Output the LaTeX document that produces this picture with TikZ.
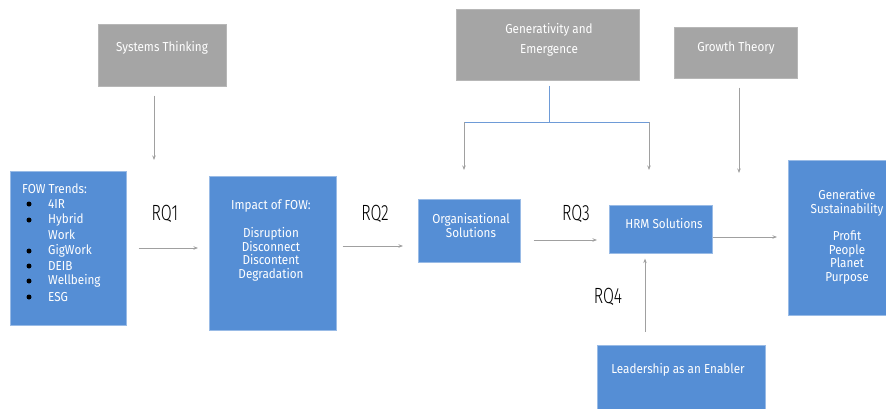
\documentclass[tikz,border=0pt]{standalone}
\usepackage{fontspec}
\setmainfont{Fira Sans}[FakeStretch=0.9]
\newfontfamily\rqfont{Fira Sans Light}[FakeStretch=0.72]
\usetikzlibrary{arrows.meta}
\definecolor{boxblue}{RGB}{85,142,213}
\definecolor{boxgrey}{RGB}{165,165,165}
\definecolor{linegrey}{RGB}{160,160,160}
\definecolor{lineblue}{RGB}{110,155,215}
\tikzset{
  bluebox/.style={fill=boxblue, draw=boxblue!60!white, line width=0.6pt, inner sep=0pt, anchor=north west},
  greybox/.style={fill=boxgrey, draw=boxgrey!80!white, line width=0.6pt, inner sep=0pt, anchor=north west},
  boxtext/.style={text=white, font=\fontsize{13}{13.7}\selectfont, align=center, inner sep=0pt},
  rq/.style={font=\rqfont\fontsize{22}{22}\selectfont, inner sep=0pt},
  flow/.style={draw=linegrey, line width=0.8pt, -{Stealth[length=4.5pt,width=3.5pt]}},
}
\begin{document}
\begin{tikzpicture}[x=1pt,y=-1pt]
\useasboundingbox (0,0) rectangle (886,409);

% theory boxes
\node[greybox, minimum width=128pt, minimum height=62pt] (st) at (98,24) {};
\node[boxtext] (stt) at (162,48) {Systems Thinking};
\node[greybox, minimum width=183pt, minimum height=71pt] (ge) at (456,9) {};
\node[boxtext] (get) at (549,40) {Generativity and\\[6pt]Emergence};
\node[greybox, minimum width=123pt, minimum height=51pt] (gt) at (674,27) {};
\node[boxtext] (gtt) at (736,48) {Growth Theory};

% process boxes
\node[bluebox, minimum width=116pt, minimum height=154pt] (fow) at (10,171) {};
\node[boxtext, anchor=west] (fowh) at (22,189) {FOW Trends:};
\foreach \t/\yy [count=\i] in {4IR/204, Hybrid/220, Work/235, GigWork/251, DEIB/266, Wellbeing/281, ESG/297} {
  \node[boxtext, anchor=west] (fowi\i) at (48,\yy) {\t};
}
\foreach \yy in {204, 220, 251, 266, 281, 297} {
  \fill (29,\yy) circle (2.5pt);
}

\node[bluebox, minimum width=127pt, minimum height=154pt] (imp) at (209,176) {};
\node[boxtext, anchor=north] (impt) at (271,200) {Impact of FOW:\\[13.7pt]Disruption\\Disconnect\\Discontent\\Degradation};

\node[bluebox, minimum width=102pt, minimum height=63pt] (org) at (418,199) {};
\node[boxtext] (orgt) at (471,225.5) {Organisational\\Solutions};

\node[bluebox, minimum width=103pt, minimum height=48pt] (hrm) at (609,205) {};
\node[boxtext] (hrmt) at (664,224) {HRM Solutions};

\node[bluebox, minimum width=100pt, minimum height=155pt] (gs) at (788,160) {};
\node[boxtext, anchor=north] (gst) at (847,189) {Generative\\Sustainability\\[13.7pt]Profit\\People\\Planet\\Purpose};

\node[bluebox, minimum width=168pt, minimum height=66pt] (lead) at (597,345) {};
\node[boxtext] (leadt) at (678,370) {Leadership as an Enabler};

% research question labels
\node[rq] (rq1) at (165,214) {RQ1};
\node[rq] (rq2) at (375,214) {RQ2};
\node[rq] (rq3) at (576,214) {RQ3};
\node[rq] (rq4) at (608,297) {RQ4};

% free ends of the theory arrows
\coordinate (stend) at (154,160);
\coordinate (geleft) at (464,170);
\coordinate (geright) at (649,170);
\coordinate (gtend) at (739,173);
\coordinate (gestem) at (549,122);

% flow between the stages
\draw[flow] ([xshift=12pt]fow.east |- 0,248) -- ([xshift=-11pt]imp.west |- 0,248);
\draw[flow] ([xshift=6pt]imp.east |- 0,246) -- ([xshift=-15pt]org.west |- 0,246);
\draw[flow] ([xshift=13pt]org.east |- 0,240) -- ([xshift=-12pt]hrm.west |- 0,240);
\draw[flow] (hrm.east |- 0,237) -- ([xshift=-11pt]gs.west |- 0,237);
\draw[flow] ([yshift=13pt]lead.north -| 645,0) -- ([yshift=-5pt]hrm.south -| 645,0);

% theory influences
\draw[flow] ([yshift=-9pt]st.south -| stend) -- (stend);
\draw[flow] ([yshift=-9pt]gt.south -| gtend) -- (gtend);
\draw[draw=lineblue, line width=0.8pt] ([yshift=-5pt]ge.south -| gestem) -- (gestem);
\draw[draw=lineblue, line width=0.8pt] (geleft |- gestem) -- (geright |- gestem);
\draw[flow] (geleft |- gestem) -- (geleft);
\draw[flow] (geright |- gestem) -- (geright);
\end{tikzpicture}
\end{document}
